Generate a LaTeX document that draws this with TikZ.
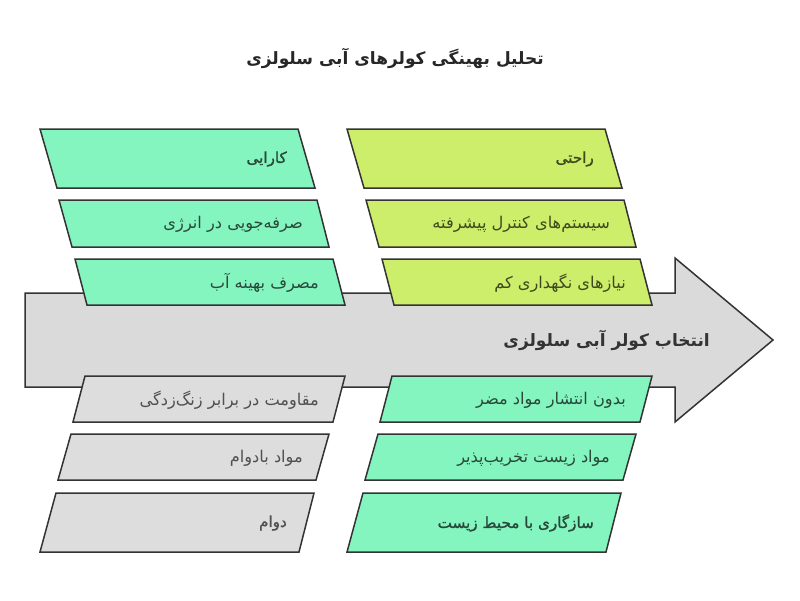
\documentclass[tikz,border=0pt]{standalone}
\usepackage{fontspec}
\newfontfamily\fa[Script=Arabic]{DejaVu Sans}
\newfontfamily\fab[Script=Arabic,FakeBold=1.2]{DejaVu Sans}
\TeXXeTstate=1
\definecolor{mint}{RGB}{133,245,192}
\definecolor{lime}{RGB}{205,238,106}
\definecolor{lgray}{RGB}{221,221,221}
\definecolor{agray}{RGB}{218,218,218}
\definecolor{edge}{RGB}{51,51,51}
\definecolor{tmint}{RGB}{40,72,58}
\definecolor{tlime}{RGB}{62,74,30}
\definecolor{tgray}{RGB}{80,80,80}
\begin{document}
\begin{tikzpicture}[x=1pt,y=-1pt,
  shp/.style={draw=edge,line width=1.5pt,line join=miter},
  mbox/.style={shp,fill=mint},
  lbox/.style={shp,fill=lime},
  gbox/.style={shp,fill=lgray},
  arr/.style={shp,fill=agray},
  lbl/.style={anchor=east,inner sep=0pt,font=\fa\fontsize{16.2}{19}\selectfont},
  cat/.style={lbl,font=\fab\fontsize{15.2}{18}\selectfont},
  lm/.style={text=tmint},
  ll/.style={text=tlime},
  lg/.style={text=tgray}]
\useasboundingbox (0,0) rectangle (800,600);
\fill[white] (0,0) rectangle (800,600);

% title
\node[font=\fa\bfseries\fontsize{17}{20}\selectfont,text=black!85] (title) at (395,58) {\beginR تحلیل بهینگی کولرهای آبی سلولزی\endR};

% main arrow
\draw[arr] (25,293) -- (675,293) -- (675,258) -- (773,340) -- (675,422) -- (675,387) -- (25,387) -- cycle;
\node[anchor=east,inner sep=0pt,font=\fa\bfseries\fontsize{17}{20}\selectfont,text=black!80] (main) at (710,340) {\beginR انتخاب کولر آبی سلولزی\endR};

% upper left column (mint)
\draw[mbox] (40,129) -- (298,129) -- (315,188) -- (57,188) -- cycle;
\draw[mbox] (59,200) -- (317,200) -- (329,247) -- (72,247) -- cycle;
\draw[mbox] (75,259) -- (333,259) -- (345,305) -- (87,305) -- cycle;
\node[cat,lm] (a1) at (287,159) {\beginR کارایی\endR};
\node[lbl,lm] (a2) at (303,224) {\beginR صرفه‌جویی در انرژی\endR};
\node[lbl,lm] (a3) at (319,283) {\beginR مصرف بهینه آب\endR};

% upper right column (lime)
\draw[lbox] (347,129) -- (605,129) -- (622,188) -- (364,188) -- cycle;
\draw[lbox] (366,200) -- (624,200) -- (636,247) -- (379,247) -- cycle;
\draw[lbox] (382,259) -- (640,259) -- (652,305) -- (394,305) -- cycle;
\node[cat,ll] (b1) at (594,159) {\beginR راحتی\endR};
\node[lbl,ll] (b2) at (610,224) {\beginR سیستم‌های کنترل پیشرفته\endR};
\node[lbl,ll] (b3) at (626,283) {\beginR نیازهای نگهداری کم\endR};

% lower left column (gray)
\draw[gbox] (85,376) -- (345,376) -- (333,422) -- (73,422) -- cycle;
\draw[gbox] (71,434) -- (329,434) -- (316,480) -- (58,480) -- cycle;
\draw[gbox] (56,493) -- (314,493) -- (299,552) -- (40,552) -- cycle;
\node[lbl,lg] (c1) at (319,400) {\beginR مقاومت در برابر زنگ‌زدگی\endR};
\node[lbl,lg] (c2) at (303,458) {\beginR مواد بادوام\endR};
\node[cat,lg] (c3) at (287,523) {\beginR دوام\endR};

% lower right column (mint)
\draw[mbox] (392,376) -- (652,376) -- (640,422) -- (380,422) -- cycle;
\draw[mbox] (378,434) -- (636,434) -- (623,480) -- (365,480) -- cycle;
\draw[mbox] (363,493) -- (621,493) -- (606,552) -- (347,552) -- cycle;
\node[lbl,lm] (d1) at (626,400) {\beginR بدون انتشار مواد مضر\endR};
\node[lbl,lm] (d2) at (610,458) {\beginR مواد زیست تخریب‌پذیر\endR};
\node[cat,lm] (d3) at (594,523) {\beginR سازگاری با محیط زیست\endR};
\end{tikzpicture}
\end{document}
